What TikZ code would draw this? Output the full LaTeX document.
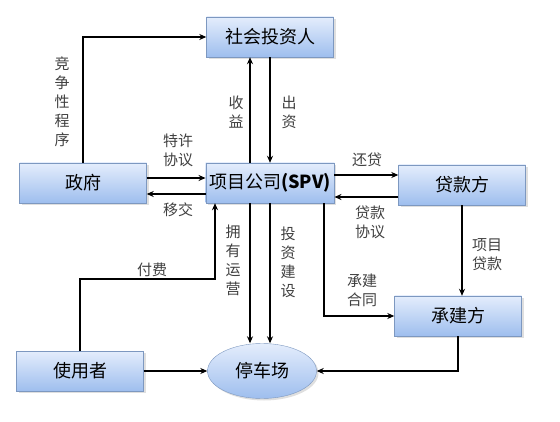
\documentclass[tikz,border=0pt]{standalone}
\usepackage{fontspec}
\setmainfont{Noto Sans CJK SC}
\usetikzlibrary{arrows.meta, shadows, shapes.geometric}
\definecolor{boxtop}{RGB}{228,237,252}
\definecolor{boxbot}{RGB}{158,190,238}
\definecolor{boxedge}{RGB}{125,152,192}
\tikzset{
  box/.style={draw=boxedge, top color=boxtop, bottom color=boxbot,
    minimum width=127pt, minimum height=40pt,
    font=\fontsize{18}{18}\selectfont,
    drop shadow={opacity=0.25, shadow xshift=2pt, shadow yshift=-2pt}},
  flow/.style={-{Stealth[length=7pt, width=6pt]}, line width=1.2pt},
  tag/.style={font=\fontsize{15}{19}\selectfont, align=center, text=black!75}
}

\begin{document}
\begin{tikzpicture}[x=1pt, y=-1pt]
  \useasboundingbox (0,0) rectangle (560,422);
  % boxes
  \node[box] (investor) at (270,37) {社会投资人};
  \node[box] (gov) at (83,183) {政府};
  \node[box] (spv) at (270,183) {项目公司\textbf{(SPV)}};
  \node[box] (lender) at (462,185) {贷款方};
  \node[box] (builder) at (458,316) {承建方};
  \node[box] (user) at (80,371) {使用者};
  \node[box, ellipse, minimum width=109pt, minimum height=55pt]
    (park) at (262,371) {停车场};
  % government and investor
  \draw[flow] (gov.north) |- (investor.west);
  \node[tag] at (62,102) {竞\\争\\性\\程\\序};
  % investor and spv
  \draw[flow] ([xshift=-20pt]spv.north) -- ([xshift=-20pt]investor.south);
  \draw[flow] (investor.south) -- (spv.north);
  \node[tag] at (236,112) {收\\益};
  \node[tag] at (289,112) {出\\资};
  % government and spv
  \draw[flow] ([yshift=5pt]gov.east) -- ([yshift=5pt]gov.east -| spv.west);
  \draw[flow] ([yshift=-11pt]spv.west) -- ([yshift=-11pt]spv.west -| gov.east);
  \node[tag] at (178,150) {特许\\协议};
  \node[tag] at (178,210) {移交};
  % spv and lender
  \draw[flow] ([yshift=8pt]spv.east) -- ([yshift=8pt]spv.east -| lender.west);
  \draw[flow] ([yshift=-12pt]lender.west) -- ([yshift=-12pt]lender.west -| spv.east);
  \node[tag] at (367,160) {还贷};
  \node[tag] at (370,222) {贷款\\协议};
  % spv and parking lot
  \draw[flow] ([xshift=-20pt]spv.south) -- ([xshift=-20pt]spv.south |- park.north);
  \draw[flow] (spv.south) -- (spv.south |- park.north);
  \node[tag] at (233,260) {拥\\有\\运\\营};
  \node[tag] at (288,262) {投\\资\\建\\设};
  % user pays
  \coordinate (payturn) at (215,279);
  \draw[flow] (user.north) |- (payturn) -- (payturn |- spv.south);
  \node[tag] at (152,270) {付费};
  \draw[flow] (user.east) -- (park.west);
  % builder
  \draw[flow] ([xshift=54pt]spv.south) |- (builder.west);
  \node[tag] at (362,290) {承建\\合同};
  \draw[flow] (lender.south) -- (lender.south |- builder.north);
  \node[tag] at (487,255) {项目\\贷款};
  \draw[flow] (builder.south) |- (park.east);
\end{tikzpicture}
\end{document}
